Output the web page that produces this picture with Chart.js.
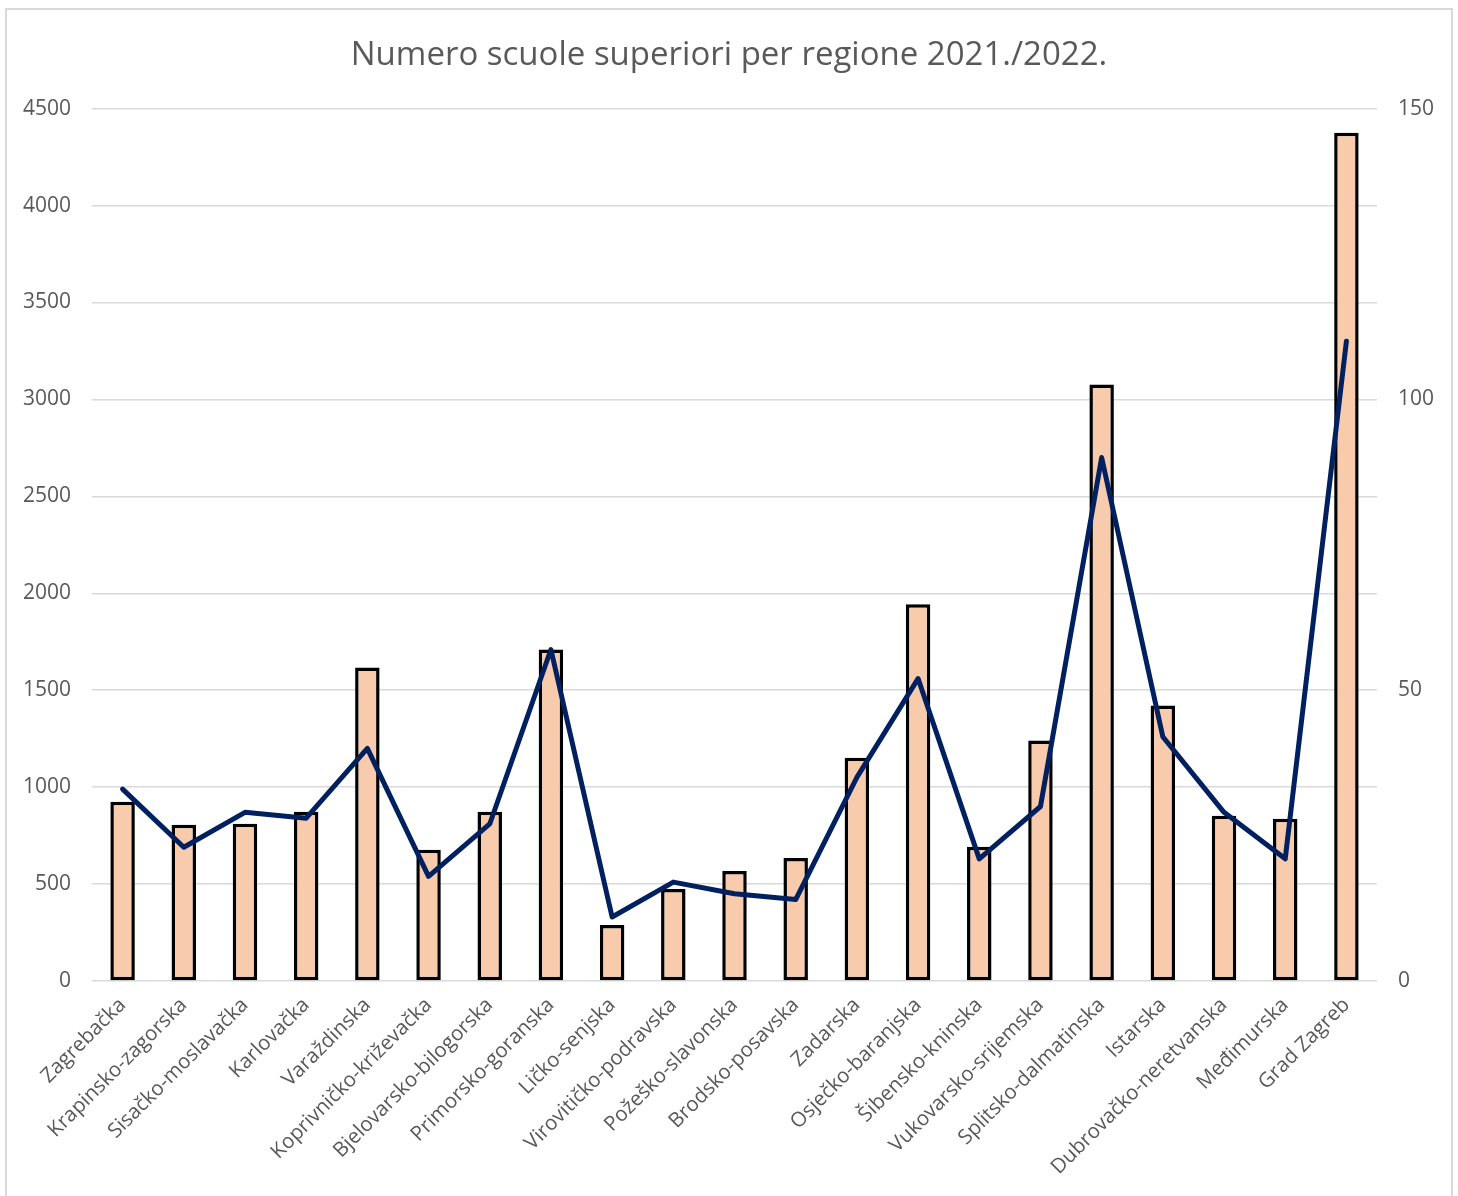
<!DOCTYPE html>
<html>
<head>
<meta charset="utf-8">
<script src="https://cdn.jsdelivr.net/npm/chart.js@4.4.1/dist/chart.umd.min.js"></script>
<style>
  html, body { margin: 0; padding: 0; background: #fff; }
  #frame {
    position: absolute; left: 5px; top: 8px; width: 1448px; height: 1200px;
    border: 2px solid #d9d9d9; box-sizing: border-box;
  }
  #wrap { position: absolute; left: 0; top: 0; width: 1458px; height: 1196px; }
</style>
</head>
<body>
<div id="frame"></div>
<div id="wrap"><canvas id="myChart" width="1458" height="1196"></canvas></div>
<script>
const myChart = document.getElementById("myChart");

const regions = [
  "Zagrebačka",
  "Krapinsko-zagorska",
  "Sisačko-moslavačka",
  "Karlovačka",
  "Varaždinska",
  "Koprivničko-križevačka",
  "Bjelovarsko-bilogorska",
  "Primorsko-goranska",
  "Ličko-senjska",
  "Virovitičko-podravska",
  "Požeško-slavonska",
  "Brodsko-posavska",
  "Zadarska",
  "Osječko-baranjska",
  "Šibensko-kninska",
  "Vukovarsko-srijemska",
  "Splitsko-dalmatinska",
  "Istarska",
  "Dubrovačko-neretvanska",
  "Međimurska",
  "Grad Zagreb",
];

// bars, left axis
const barValues = [925, 806, 811, 873, 1617, 677, 873, 1710, 289, 475, 568, 635, 1152, 1943, 692, 1240, 3077, 1421, 852, 837, 4376];
// line, right axis
const lineValues = [33, 23, 29, 28, 40, 18, 27, 57, 11, 17, 15, 14, 35, 52, 21, 30, 90, 42, 29, 21, 110];

const textColor = "#595959";
const gridColor = "#d9d9d9";
const fontFamily = "'Open Sans', sans-serif";
const plain = (v) => String(v);

new Chart(myChart, {
  type: "bar",
  data: {
    labels: regions,
    datasets: [
      {
        type: "line",
        data: lineValues,
        yAxisID: "y1",
        borderColor: "#002060",
        borderWidth: 5,
        borderCapStyle: "round",
        borderJoinStyle: "round",
        pointRadius: 0,
        fill: false,
        tension: 0,
        order: 0,
      },
      {
        type: "bar",
        data: barValues,
        yAxisID: "y",
        backgroundColor: "#f8cbad",
        borderColor: "#000000",
        borderWidth: 3.5,
        borderSkipped: false,
        categoryPercentage: 0.8,
        barPercentage: 0.5,
        order: 1,
      },
    ],
  },
  options: {
    responsive: false,
    animation: false,
    devicePixelRatio: 1,
    layout: { padding: 0 },
    plugins: {
      legend: { display: false },
      tooltip: { enabled: false },
      title: {
        display: true,
        text: "Numero scuole superiori per regione 2021./2022.",
        color: textColor,
        font: { family: fontFamily, size: 33, weight: "normal" },
        padding: { top: 36, bottom: 33 },
      },
    },
    scales: {
      x: {
        grid: { display: false },
        border: { display: false },
        ticks: {
          color: textColor,
          font: { family: fontFamily, size: 20.5 },
          minRotation: 45,
          maxRotation: 45,
          padding: 4,
          autoSkip: false,
        },
        afterFit: (scale) => { scale.height = 215; },
      },
      y: {
        position: "left",
        min: 0,
        max: 4500,
        grid: { color: gridColor, lineWidth: 1.5, drawTicks: false },
        border: { display: false },
        ticks: {
          stepSize: 500,
          callback: plain,
          color: textColor,
          font: { family: fontFamily, size: 21 },
          padding: 21,
        },
        afterFit: (scale) => { scale.width = 92; },
      },
      y1: {
        position: "right",
        min: 0,
        max: 150,
        grid: { drawOnChartArea: false, drawTicks: false },
        border: { display: false },
        ticks: {
          stepSize: 50,
          callback: plain,
          color: textColor,
          font: { family: fontFamily, size: 21 },
          padding: 21,
        },
        afterFit: (scale) => { scale.width = 81; },
      },
    },
  },
});
</script>
</body>
</html>
